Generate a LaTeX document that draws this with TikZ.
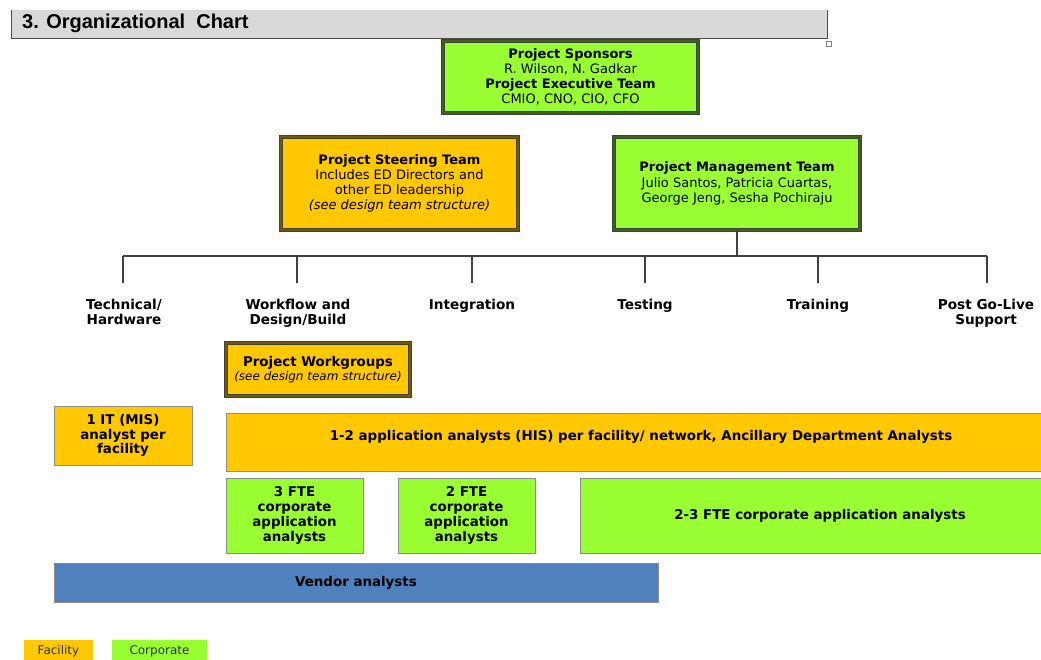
\documentclass[tikz,border=0pt]{standalone}
\usepackage{fontspec}
\setmainfont{DejaVu Sans}
\newfontfamily\titlefont{Liberation Sans}
\definecolor{facility}{HTML}{FFC800}
\definecolor{corporate}{HTML}{99FF33}
\definecolor{vendor}{HTML}{4F81BD}
\definecolor{headergray}{HTML}{D9D9D9}
\begin{document}
\begin{tikzpicture}[x=1pt,y=-1pt,
  box/.style={rectangle, inner sep=0pt, align=center, text=black},
  framed/.style={box, draw=black!75, line width=0.8pt, double distance=1.5pt},
  facframe/.style={framed, fill=facility, double=facility!45!black},
  corpframe/.style={framed, fill=corporate, double=corporate!40!black},
  plain/.style={box, draw=black!45, line width=0.8pt},
  fac/.style={fill=facility},
  corp/.style={fill=corporate},
  big/.style={font=\fontsize{13}{15.2}\selectfont},
  heavy/.style={font=\bfseries\fontsize{13.4}{14.8}\selectfont},
  lbl/.style={align=center, inner sep=0pt, anchor=north, font=\bfseries\fontsize{13.6}{15}\selectfont},
  conn/.style={draw=black!75, line width=1.1pt},
]
\useasboundingbox (0,0) rectangle (1041,659);
\clip (0,0) rectangle (1041,659);
\fill[white] (0,0) rectangle (1041,659);

% section header: open at the top
\node[box, fill=headergray, minimum width=815pt, minimum height=28pt] (header) at (419.5,24) {};
\draw[draw=black!70, line width=0.9pt] (header.north west) -- (header.south west) -- (header.south east) -- (header.north east);
\node[anchor=base west, inner sep=0pt, font=\titlefont\bfseries\fontsize{20}{22}\selectfont] (title) at (22,28) {3. Organizational\ \ Chart};
\node[draw=black!50, line width=0.5pt, minimum size=5pt, inner sep=0pt] (handle) at (829,44) {};

% leadership
\node[corpframe, big, minimum width=255pt, minimum height=72pt] (sponsors) at (570.5,77)
  {\textbf{Project Sponsors}\\R. Wilson, N. Gadkar\\\textbf{Project Executive Team}\\CMIO, CNO, CIO, CFO};
\node[facframe, big, minimum width=237pt, minimum height=93pt] (steering) at (399.5,183.5)
  {\textbf{Project Steering Team}\\Includes ED Directors and\\other ED leadership\\\textit{(see design team structure)}};
\node[corpframe, big, minimum width=246pt, minimum height=93pt] (mgmt) at (737,183.5)
  {\textbf{Project Management Team}\\Julio Santos, Patricia Cuartas,\\George Jeng, Sesha Pochiraju};

% branch bar
\coordinate (b1) at (123,256);
\coordinate (b2) at (297,256);
\coordinate (b3) at (472,256);
\coordinate (b4) at (645,256);
\coordinate (b5) at (818,256);
\coordinate (b6) at (987,256);
\coordinate (e1) at (123,283);
\coordinate (e2) at (297,283);
\coordinate (e3) at (472,283);
\coordinate (e4) at (645,283);
\coordinate (e5) at (818,283);
\coordinate (e6) at (987,283);
\draw[conn] (mgmt.south) -- (mgmt.south |- b1);
\draw[conn] (b1) -- (b6);
\foreach \i in {1,...,6} { \draw[conn] (b\i) -- (e\i); }

% work streams
\node[lbl] (tech) at (124,299) {Technical/\\Hardware};
\node[lbl] (flow) at (298,299) {Workflow and\\Design/Build};
\node[lbl] (integ) at (472,299) {Integration};
\node[lbl] (test) at (645,299) {Testing};
\node[lbl] (train) at (818,299) {Training};
\node[lbl] (golive) at (986,299) {Post Go-Live\\Support};

% teams
\node[facframe, minimum width=184pt, minimum height=53pt, font=\fontsize{12}{14}\selectfont] (workgroups) at (318,369.5)
  {{\bfseries\fontsize{13.4}{14}\selectfont Project Workgroups}\\\textit{(see design team structure)}};
\node[plain, fac, heavy, minimum width=138pt, minimum height=59pt] (itmis) at (123,435.5)
  {1 IT (MIS)\\analyst per\\facility};
\node[plain, fac, heavy, minimum width=830pt, minimum height=58pt, text depth=14pt] (apps) at (641,442)
  {1-2 application analysts (HIS) per facility/ network, Ancillary Department Analysts};
\node[plain, corp, heavy, minimum width=137pt, minimum height=75pt] (fte3) at (294.5,515.5)
  {3 FTE\\corporate\\application\\analysts};
\node[plain, corp, heavy, minimum width=137pt, minimum height=75pt] (fte2) at (466.5,515.5)
  {2 FTE\\corporate\\application\\analysts};
\node[plain, corp, heavy, minimum width=480pt, minimum height=75pt] (fte23) at (820,515.5)
  {2-3 FTE corporate application analysts};
\node[plain, fill=vendor, heavy, minimum width=604pt, minimum height=39pt] (vendors) at (356,582.5)
  {Vendor analysts};

% legend
\node[box, fac, minimum width=69pt, minimum height=22pt, font=\fontsize{12}{14}\selectfont, text=black!80] (legfac) at (58.5,651) {Facility};
\node[box, corp, minimum width=95pt, minimum height=22pt, font=\fontsize{12}{14}\selectfont, text=black!80] (legcorp) at (159.5,651) {Corporate};
\end{tikzpicture}
\end{document}
